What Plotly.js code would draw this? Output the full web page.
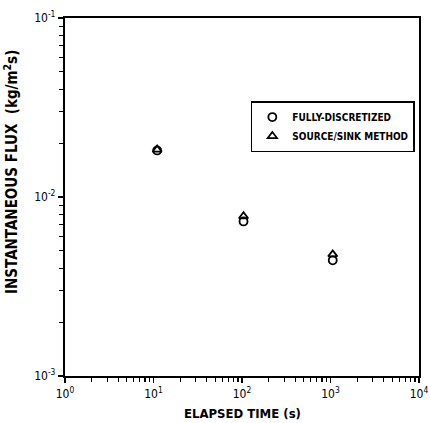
<!DOCTYPE html>
<html><head><meta charset="utf-8">
<script src="https://cdn.plot.ly/plotly-3.0.1.min.js"></script>
<style>html,body{margin:0;padding:0;background:#fff}#c{width:430px;height:423px}</style>
</head><body><div id="c"></div>
<script>
const time = [11, 104, 1060];
const fullyDiscretized = [0.0182, 0.0073, 0.00443];
const sourceSink = [0.0184, 0.0078, 0.00478];
const xTickVals = [1, 10, 100, 1000, 10000];
const xTickText = ['10<sup>0</sup>', '10<sup>1</sup>', '10<sup>2</sup>', '10<sup>3</sup>', '10<sup>4</sup>'];
const yTickVals = [0.001, 0.01, 0.1];
const yTickText = ['10<sup>-3</sup>', '10<sup>-2</sup>', '10<sup>-1</sup>'];

function minorVals(lo, hi) {
  const v = [];
  for (let e = lo; e < hi; e++) for (let m = 2; m <= 9; m++) v.push(m * Math.pow(10, e));
  return v;
}
const F = '"DejaVu Sans Condensed", "Liberation Sans Narrow", "DejaVu Sans", sans-serif';

const traces = [
  {x: time, y: fullyDiscretized, type: 'scatter', mode: 'markers', name: 'FULLY-DISCRETIZED',
   marker: {symbol: 'circle-open', size: 8, color: '#000', line: {width: 1.8, color: '#000'}}},
  {x: time, y: sourceSink, type: 'scatter', mode: 'markers', name: 'SOURCE/SINK METHOD',
   marker: {symbol: 'triangle-up-open', size: 8, color: '#000', line: {width: 1.8, color: '#000'}}}
];
const layout = {
  width: 430, height: 423,
  margin: {l: 65, r: 11, t: 18, b: 47, autoexpand: false},
  paper_bgcolor: '#fff', plot_bgcolor: '#fff',
  font: {family: F, color: '#000', size: 12},
  showlegend: true,
  legend: {x: 0.525, y: 0.768, xanchor: 'left', yanchor: 'top', bordercolor: '#000', borderwidth: 1.5,
           bgcolor: '#fff', font: {family: F, size: 10, color: '#000', weight: 'bold'}, tracegroupgap: 2, itemwidth: 30},
  xaxis: {type: 'log', range: [0, 4], tickmode: 'array', tickvals: xTickVals, ticktext: xTickText,
          ticks: 'outside', ticklen: 5, tickwidth: 1.2, tickcolor: '#000', automargin: false, ticklabeloverflow: 'allow',
          showline: true, linewidth: 2.2, linecolor: '#000', mirror: true, showgrid: false, zeroline: false,
          minor: {tickvals: minorVals(0, 4), ticks: 'outside', ticklen: 4, tickwidth: 1.2, tickcolor: '#000', showgrid: false},
          tickfont: {family: F, size: 12}},
  yaxis: {type: 'log', range: [-3, -1], tickmode: 'array', tickvals: yTickVals, ticktext: yTickText,
          ticks: 'outside', ticklen: 5, tickwidth: 1.2, tickcolor: '#000', automargin: false, ticklabeloverflow: 'allow',
          showline: true, linewidth: 2.2, linecolor: '#000', mirror: true, showgrid: false, zeroline: false,
          minor: {tickvals: minorVals(-3, -1), ticks: 'outside', ticklen: 4, tickwidth: 1.2, tickcolor: '#000', showgrid: false},
          tickfont: {family: F, size: 12}},
  annotations: [
    {text: 'ELAPSED TIME (s)', xref: 'paper', yref: 'paper', x: 0.5, y: 0, yshift: -37, xanchor: 'center', yanchor: 'middle',
     showarrow: false, font: {family: F, size: 13, color: '#000', weight: 'bold'}},
    {text: 'INSTANTANEOUS FLUX  (kg/m<sup>2</sup>s)', xref: 'paper', yref: 'paper', x: 0, xshift: -54, y: 0.57,
     xanchor: 'center', yanchor: 'middle', textangle: -90, showarrow: false, font: {family: F, size: 15, color: '#000', weight: 'bold'}}
  ]
};
Plotly.newPlot('c', traces, layout, {displayModeBar: false, staticPlot: true});
</script></body></html>
